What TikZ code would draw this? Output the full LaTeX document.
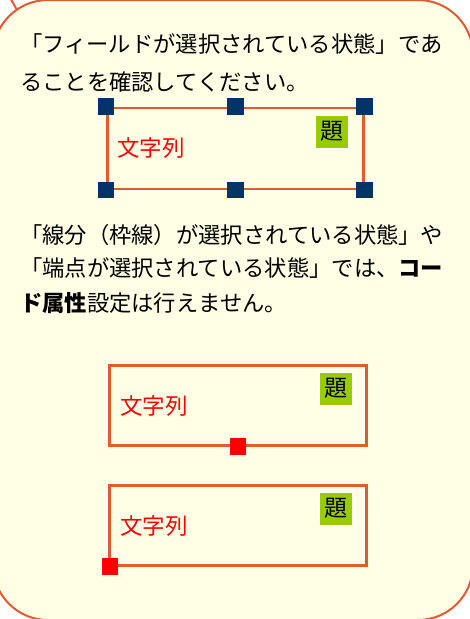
\documentclass[tikz,border=0pt]{standalone}
\usepackage{fontspec}
\newfontfamily\jp{Noto Sans CJK JP}
\definecolor{bordercol}{RGB}{226,90,50}
\definecolor{fillcol}{RGB}{255,255,230}
\definecolor{navycol}{RGB}{0,51,102}
\definecolor{greencol}{RGB}{153,204,0}
\definecolor{redcol}{RGB}{255,0,0}
\tikzset{
  txt/.style={anchor=base west, inner sep=0pt, font=\jp\fontsize{22.3}{26}\selectfont, text=black},
  fieldbox/.style={draw=bordercol, line width=2.5pt, fill=fillcol, anchor=north west, inner sep=0pt, minimum width=257pt, minimum height=80pt},
  navyhandle/.style={fill=navycol, minimum size=16.5pt, inner sep=0pt},
  redhandle/.style={fill=redcol, minimum size=16.5pt, inner sep=0pt},
  fieldtext/.style={anchor=base west, inner sep=0pt, font=\jp\fontsize{22.5}{26}\selectfont, text=redcol},
  titlebox/.style={fill=greencol, draw=white, line width=0.8pt, minimum size=33pt, inner sep=0pt, font=\jp\fontsize{23}{24}\selectfont, text=black}
}
\begin{document}
\begin{tikzpicture}[x=1pt,y=-1pt]
\useasboundingbox (0,0) rectangle (470,619);
\fill[white] (0,0) rectangle (470,619);
\begin{scope}
\clip (0,0) rectangle (470,619);
\draw[draw=bordercol, fill=fillcol, line width=2pt, rounded corners=55pt] (-7,0) rectangle (473,620);
\coordinate (tailA) at (17,10);
\coordinate (tailB) at (8,-6);
\draw[draw=bordercol, line width=2pt] (tailA) -- (tailB);
\end{scope}

% text
\node[txt] (l1) at (20,52.5) {「フィールドが選択されている状態」であ};
\node[txt] (l2) at (20,90.5) {ることを確認してください。};
\node[txt] (l3) at (20,243.5) {「線分（枠線）が選択されている状態」や};
\node[txt] (l4) at (20,276.5) {「端点が選択されている状態」では、\textbf{コー}};
\node[txt] (l5) at (20,311.5) {\textbf{ド属性}設定は行えません。};

% box 1
\node[fieldbox, minimum width=256pt, minimum height=81pt] (b1) at (106,106.5) {};
\node[fieldtext] (t1) at (117,156.5) {文字列};
\node[titlebox] (g1) at (332,131.5) {題};
\foreach \a in {north west, north, north east, south west, south, south east}
  \node[navyhandle] at (b1.\a) {};

% box 2
\node[fieldbox] (b2) at (108,364) {};
\node[fieldtext] (t2) at (120,414.5) {文字列};
\node[titlebox] (g2) at (335.5,388.5) {題};
\node[redhandle] (h2) at (b2.south) {};

% box 3
\node[fieldbox] (b3) at (108,484) {};
\node[fieldtext] (t3) at (120,534.5) {文字列};
\node[titlebox] (g3) at (335.5,508.5) {題};
\node[redhandle] (h3) at ([shift={(2,0)}]b3.south west) {};
\end{tikzpicture}
\end{document}
